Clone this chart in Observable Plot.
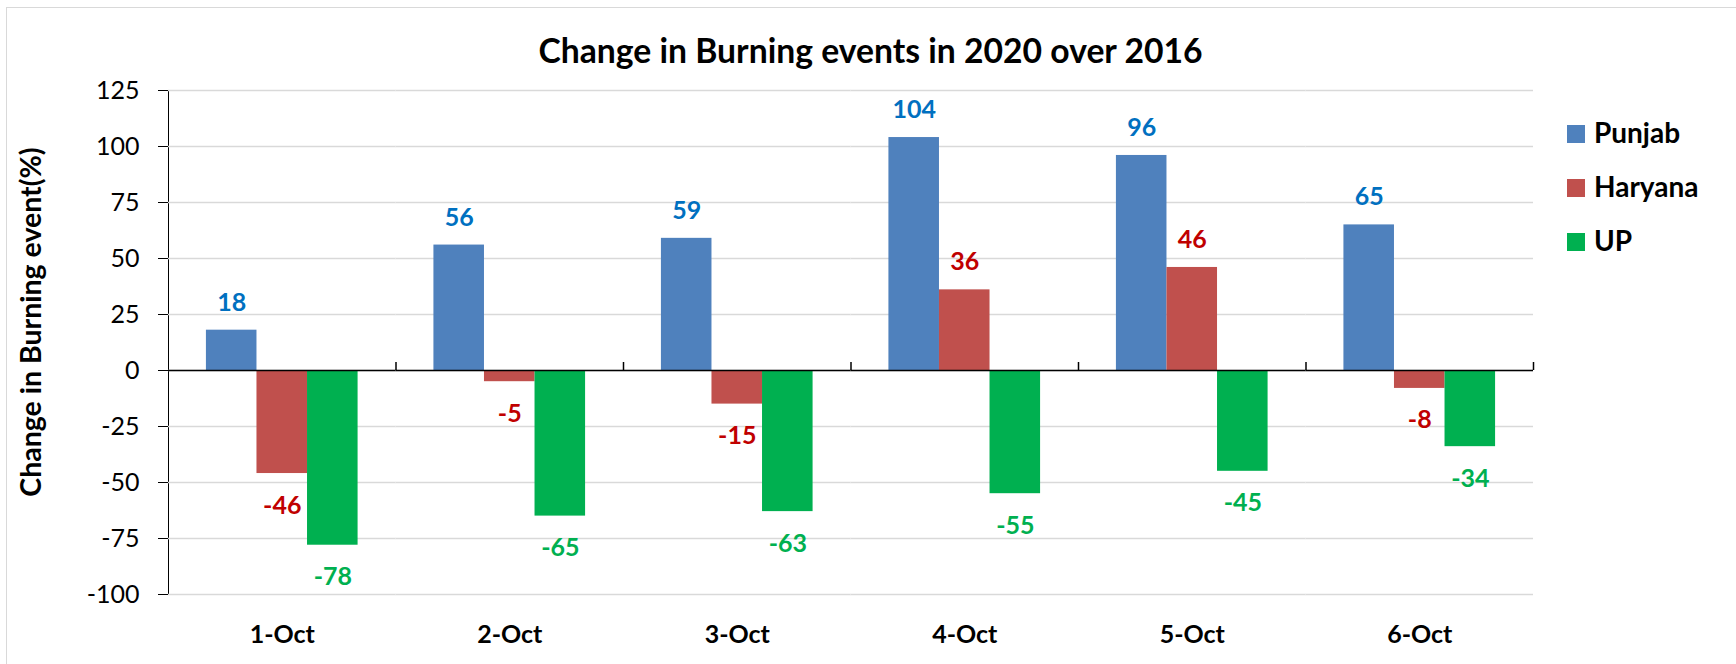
<!DOCTYPE html>
<html>
<head>
<meta charset="utf-8">
<script src="https://cdn.jsdelivr.net/npm/d3@7"></script>
<script src="https://cdn.jsdelivr.net/npm/@observablehq/plot@0.6"></script>
<style>
  html, body { margin: 0; padding: 0; background: #ffffff; overflow: hidden; }
  #wrap { position: relative; width: 1736px; height: 664px; font-family: Lato, sans-serif; }
  #frame { position: absolute; left: 6px; top: 7px; width: 1800px; height: 800px; border: 1.5px solid #d9d9d9; box-sizing: border-box; pointer-events: none; }
  #chart { position: absolute; left: 0; top: 0; }
  #overlay { position: absolute; left: 0; top: 0; pointer-events: none; }
  [aria-label^="fx-axis"] text { font-weight: bold; font-size: 25px; fill: #000; }
  [aria-label^="y-axis"] text { font-size: 25px; fill: #000; }
</style>
</head>
<body>
<div id="wrap">
  <div id="frame"></div>
  <div id="chart"></div>
  <svg id="overlay" width="1736" height="664" xmlns="http://www.w3.org/2000/svg"></svg>
</div>
<script>
// ---- data ----
const dates = ["1-Oct", "2-Oct", "3-Oct", "4-Oct", "5-Oct", "6-Oct"];
const seriesNames = ["Punjab", "Haryana", "UP"];
const punjab = [18, 56, 59, 104, 96, 65];
const haryana = [-46, -5, -15, 36, 46, -8];
const up = [-78, -65, -63, -55, -45, -34];
const yTicks = [125, 100, 75, 50, 25, 0, -25, -50, -75, -100];
const barColors = ["#4F81BD", "#C0504D", "#00B050"];
const labelColors = ["#0070C0", "#C00000", "#00B050"];
const titleText = "Change in Burning events in 2020 over 2016";
const yTitleText = "Change in Burning event(%)";

const seriesValues = [punjab, haryana, up];
const rows = seriesNames.flatMap((s, k) =>
  dates.map((d, i) => ({date: d, series: s, value: seriesValues[k][i]}))
);

// ---- layout ----
const W = 1736, H = 664, ML = 168, MR = 203, MT = 90, MB = 70;
const facetW = (W - ML - MR) / dates.length;
const padOuter = 0.75;
const step = facetW / (seriesNames.length + 2 * padOuter);
const boundaryDx = facetW - (padOuter + seriesNames.length - 0.5) * step;

const labelMarks = seriesNames.flatMap((s, k) => [
  Plot.text(rows, {
    filter: d => d.series === s && d.value >= 0,
    x: "series", y: "value", text: d => String(d.value),
    fill: labelColors[k], lineAnchor: "bottom", dy: -19.5,
    fontWeight: "bold", fontSize: 25, fontFamily: "Lato"
  }),
  Plot.text(rows, {
    filter: d => d.series === s && d.value < 0,
    x: "series", y: "value", text: d => String(d.value),
    fill: labelColors[k], lineAnchor: "bottom", dy: 40,
    fontWeight: "bold", fontSize: 25, fontFamily: "Lato"
  })
]);

const chart = Plot.plot({
  width: W, height: H,
  marginLeft: ML, marginRight: MR, marginTop: MT, marginBottom: MB,
  style: {fontFamily: "Lato, sans-serif", fontSize: "25px", color: "#000", background: "transparent", overflow: "visible"},
  facet: {data: rows, x: "date"},
  fx: {domain: dates, padding: 0, round: false, label: null, tickSize: 0, tickPadding: 31, axis: "bottom"},
  x: {domain: seriesNames, axis: null, paddingInner: 0, paddingOuter: padOuter, round: false},
  y: {domain: [-100, 125], ticks: yTicks, tickSize: 10, tickPadding: 19, label: null, line: true, tickFormat: d => String(d)},
  color: {domain: seriesNames, range: barColors},
  marks: [
    Plot.ruleY(yTicks, {stroke: "#d9d9d9", strokeWidth: 1.5}),
    Plot.barY(rows, {x: "series", y: "value", fill: "series"}),
    Plot.ruleY([0], {stroke: "#000", strokeWidth: 1.5}),
    Plot.ruleX(["UP"], {x: d => d, y1: 0, y2: 0, insetTop: -8, dx: boundaryDx, stroke: "#000", strokeWidth: 1.5}),
    ...labelMarks
  ]
});
document.getElementById("chart").appendChild(chart);

// ---- title, axis title, legend ----
const ov = d3.select("#overlay");
ov.append("text")
  .attr("x", 870.5).attr("y", 63)
  .attr("text-anchor", "middle")
  .style("font-family", "Lato, sans-serif").style("font-weight", "bold").style("font-size", "33.7px")
  .text(titleText);
ov.append("text")
  .attr("transform", "translate(41,322) rotate(-90)")
  .attr("text-anchor", "middle")
  .style("font-family", "Lato, sans-serif").style("font-weight", "bold").style("font-size", "28.5px")
  .text(yTitleText);
const lg = ov.selectAll("g.lg").data(seriesNames).join("g")
  .attr("transform", (d, i) => `translate(1567,${125 + i * 54})`);
lg.append("rect").attr("width", 18).attr("height", 18).attr("fill", (d, i) => barColors[i]);
lg.append("text").attr("x", 27).attr("y", 18)
  .style("font-family", "Lato, sans-serif").style("font-weight", "bold").style("font-size", "28px")
  .text(d => d);
</script>
</body>
</html>
